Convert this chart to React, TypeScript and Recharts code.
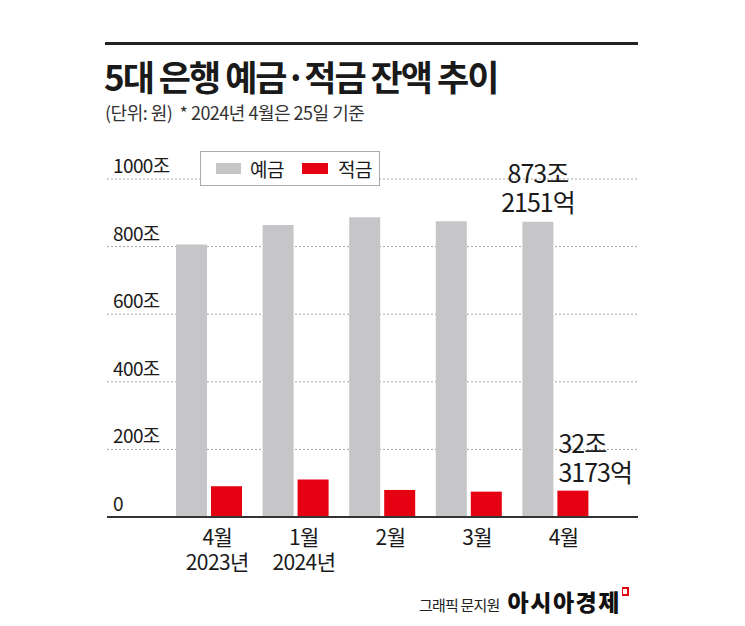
import { BarChart, Bar, XAxis, YAxis, CartesianGrid, LabelList } from 'recharts'

const months = ['4월', '1월', '2월', '3월', '4월']
const years = ['2023년', '2024년', '', '', '']
const deposits = [806, 864, 887, 875, 873.2]
const savings = [91, 111, 80, 75, 78]
const yTicks = [0, 200, 400, 600, 800, 1000]
const depositNote = ['873조', '2151억']
const savingsNote = ['32조', '3173억']

const data = months.map((month, i) => ({
  month,
  year: years[i],
  deposit: deposits[i],
  saving: savings[i]
}))

const FONT = "'Noto Sans CJK KR', 'Noto Sans', sans-serif"
const GRAY = '#c6c6c8'
const RED = '#e50012'
const INK = '#1a1a1a'

const YTick = (props: any) => {
  const { x, y, payload } = props
  const v = payload.value
  return (
    <text x={x + 6} y={y - 6} fontSize={19} fill={INK} fontFamily={FONT} letterSpacing={-0.6} textAnchor="start">
      {v === 0 ? '0' : `${v}조`}
    </text>
  )
}

// two-line category label: month, then year under the first of each year
const XTick = (props: any) => {
  const { x, y, payload } = props
  const i = payload.index
  return (
    <text x={x + 8} y={y + 28} fontSize={21} fill={INK} fontFamily={FONT} textAnchor="middle" letterSpacing={-0.6}>
      <tspan x={x + 8}>{months[i]}</tspan>
      {years[i] && <tspan x={x + 8} dy={25}>{years[i]}</tspan>}
    </text>
  )
}

const DepositNote = (props: any) => {
  const { x, y, width, index } = props
  if (index !== data.length - 1) return null
  const cx = x + width / 2
  return (
    <text x={cx} y={y - 39} fontSize={25} fill={INK} fontFamily={FONT} textAnchor="middle" letterSpacing={-1}>
      <tspan x={cx}>{depositNote[0]}</tspan>
      <tspan x={cx} dy={29}>{depositNote[1]}</tspan>
    </text>
  )
}

const SavingNote = (props: any) => {
  const { x, y, index } = props
  if (index !== data.length - 1) return null
  return (
    <text x={x + 1} y={y - 38} fontSize={25} fill={INK} fontFamily={FONT} textAnchor="start" letterSpacing={-1}>
      <tspan x={x + 1}>{savingsNote[0]}</tspan>
      <tspan x={x + 1} dy={29}>{savingsNote[1]}</tspan>
    </text>
  )
}

export default function App() {
  return (
    <div style={{ position: 'relative', width: 729, height: 610, fontFamily: FONT, color: INK, background: '#fff' }}>
      <div style={{ position: 'absolute', left: 97, top: 34, width: 533, height: 3, background: '#222' }} />
      <div style={{ position: 'absolute', left: 96, top: 46, fontSize: 35, fontWeight: 700, letterSpacing: -2, lineHeight: '44px', whiteSpace: 'nowrap' }}>
        5대 은행 예금·적금 잔액 추이
      </div>
      <div style={{ position: 'absolute', left: 97, top: 92, fontSize: 18, letterSpacing: -0.5, lineHeight: '24px', color: '#333', whiteSpace: 'nowrap' }}>
        (단위: 원)&nbsp;&nbsp;* 2024년 4월은 25일 기준
      </div>

      <div style={{ position: 'absolute', left: 0, top: 0 }}>
        <BarChart
          width={729}
          height={610}
          data={data}
          margin={{ top: 171, right: 99, bottom: 71, left: 39 }}
          barSize={31}
          barGap={4}
        >
          <CartesianGrid vertical={false} stroke="#a5a5a5" strokeDasharray="2 2" />
          <XAxis
            dataKey="month"
            height={30}
            padding={{ left: 59, right: 39 }}
            axisLine={{ stroke: '#333', strokeWidth: 2 }}
            tickLine={false}
            tickSize={0}
            tickMargin={0}
            tick={<XTick />}
            interval={0}
          />
          <YAxis
            width={60}
            domain={[0, 1000]}
            ticks={yTicks}
            axisLine={false}
            tickLine={false}
            tickSize={0}
            tickMargin={0}
            tick={<YTick />}
          />
          <Bar dataKey="deposit" fill={GRAY} isAnimationActive={false}>
            <LabelList dataKey="deposit" content={<DepositNote />} />
          </Bar>
          <Bar dataKey="saving" fill={RED} isAnimationActive={false}>
            <LabelList dataKey="saving" content={<SavingNote />} />
          </Bar>
        </BarChart>
      </div>

      <div style={{ position: 'absolute', left: 192, top: 143, width: 180, height: 35, boxSizing: 'border-box', border: '1px solid #aaa', background: '#fff', display: 'flex', alignItems: 'center', fontSize: 19, letterSpacing: -0.5 }}>
        <span style={{ width: 25, height: 11, background: GRAY, marginLeft: 15 }} />
        <span style={{ marginLeft: 9 }}>예금</span>
        <span style={{ width: 26, height: 11, background: RED, marginLeft: 18 }} />
        <span style={{ marginLeft: 10 }}>적금</span>
      </div>

      <div style={{ position: 'absolute', left: 411, top: 576, display: 'flex', alignItems: 'baseline', whiteSpace: 'nowrap' }}>
        <span style={{ fontSize: 15, letterSpacing: -0.8, color: '#222' }}>그래픽 문지원</span>
        <span style={{ fontSize: 23, fontWeight: 900, letterSpacing: 1.5, marginLeft: 8, color: '#111' }}>아시아경제</span>
        <span style={{ display: 'inline-block', width: 4, height: 5, border: `2px solid ${RED}`, borderLeftWidth: 1, marginLeft: 1, alignSelf: 'flex-start', marginTop: 3 }} />
      </div>
    </div>
  )
}
